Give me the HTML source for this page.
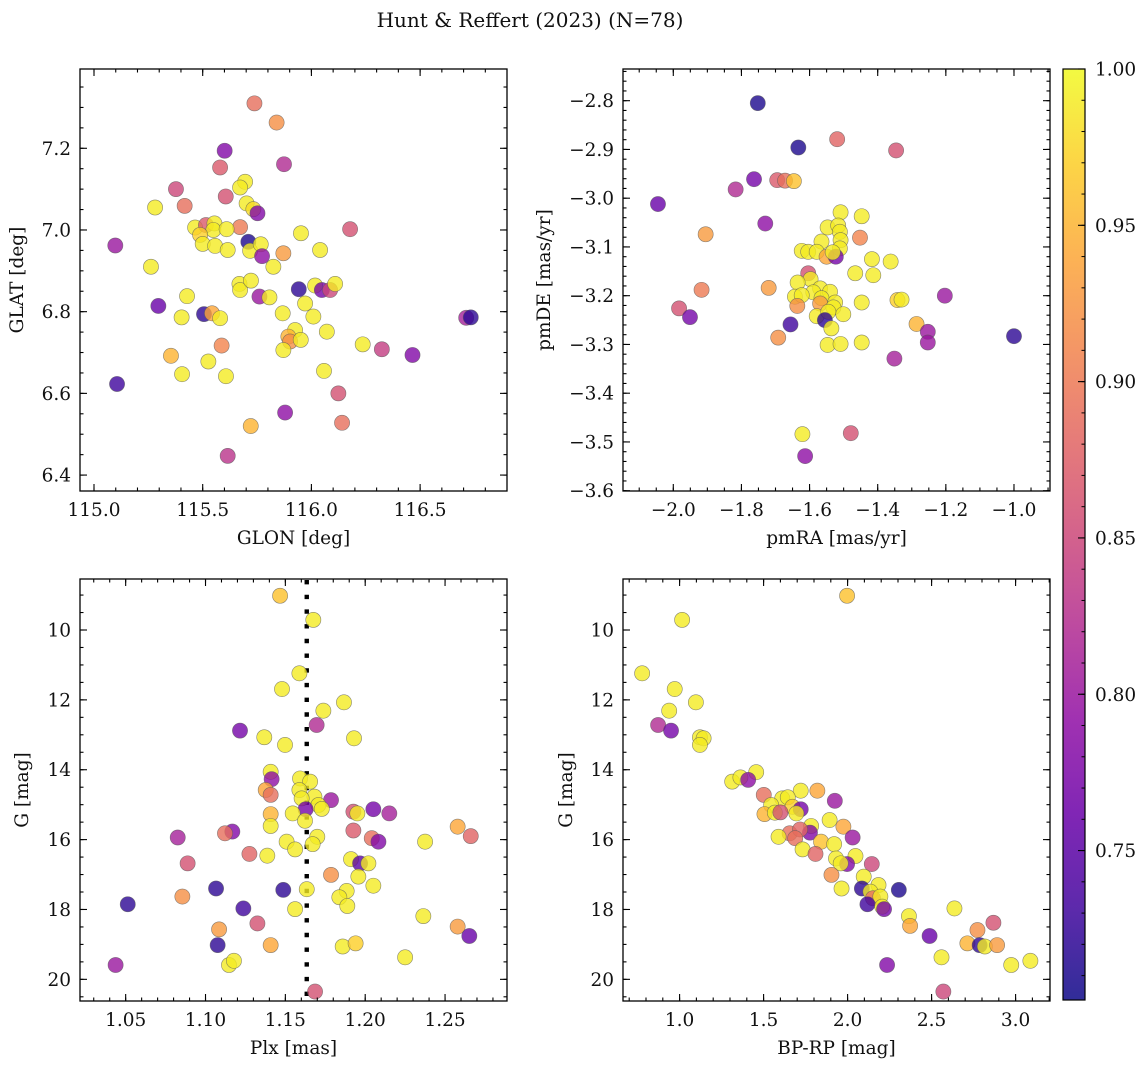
<!DOCTYPE html>
<html><head><meta charset="utf-8"><style>
html,body{margin:0;padding:0;background:#fff;}
svg{display:block;font-family:"DejaVu Serif","Liberation Serif",serif;}
</style></head><body>
<svg id="fig" width="1148" height="1068" viewBox="0 0 1148 1068" xmlns="http://www.w3.org/2000/svg">
<text x="530" y="27" font-size="20" text-anchor="middle" fill="#111">Hunt &amp; Reffert (2023) (N=78)</text>
</svg>
<script>
// ---- Panel 1: GLON vs GLAT ----
const glonTL=[115.738,115.840,115.601,115.874,115.580,115.695,115.672,115.377,115.606,115.281,115.417,115.702,115.733,115.752,116.178,115.672,115.465,115.515,115.554,115.549,115.610,115.488,115.500,115.557,115.615,115.952,115.710,115.718,115.767,115.773,115.871,116.040,115.098,115.262,115.825,115.669,115.672,115.722,115.942,116.017,116.048,116.086,116.109,115.428,115.761,115.807,115.296,115.971,115.506,115.543,115.580,115.403,115.868,116.009,116.712,116.733,115.925,115.894,115.902,115.951,116.071,115.871,115.587,115.354,116.236,116.324,116.465,115.526,115.405,115.607,116.058,115.106,116.124,115.879,116.141,115.721,115.615];
const glatTL=[7.310,7.263,7.194,7.161,7.153,7.118,7.104,7.100,7.082,7.055,7.059,7.065,7.051,7.041,7.002,7.007,7.006,7.012,7.016,7.000,7.002,6.988,6.966,6.961,6.951,6.992,6.971,6.949,6.965,6.936,6.943,6.951,6.962,6.910,6.910,6.868,6.853,6.876,6.855,6.864,6.853,6.853,6.868,6.838,6.837,6.835,6.814,6.820,6.794,6.796,6.784,6.786,6.796,6.788,6.785,6.786,6.755,6.739,6.727,6.731,6.751,6.706,6.717,6.692,6.720,6.708,6.694,6.678,6.647,6.642,6.655,6.623,6.600,6.553,6.528,6.520,6.447];
const probTL=[0.89,0.92,0.78,0.82,0.87,0.99,0.99,0.85,0.86,0.99,0.89,0.99,0.98,0.78,0.86,0.90,0.99,0.87,0.99,0.99,0.99,0.97,0.99,0.99,0.99,0.99,0.71,0.99,0.99,0.79,0.93,0.99,0.80,0.99,0.99,0.99,0.99,0.99,0.72,0.99,0.77,0.85,0.99,0.99,0.80,0.99,0.76,0.99,0.72,0.94,0.99,0.99,0.99,0.99,0.81,0.72,0.99,0.95,0.92,0.99,0.99,0.99,0.91,0.95,0.99,0.84,0.78,0.99,0.99,0.99,0.99,0.73,0.86,0.79,0.89,0.95,0.83];
const xTicksTL=["115.0","115.5","116.0","116.5"];
const yTicksTL=["6.4","6.6","6.8","7.0","7.2"];
// ---- Panel 2: pmRA vs pmDE ----
const pmraTR=[-1.752,-1.633,-1.519,-1.346,-1.763,-1.695,-1.672,-1.646,-1.817,-2.045,-1.730,-1.905,-1.509,-1.447,-1.547,-1.516,-1.511,-1.509,-1.511,-1.452,-1.565,-1.623,-1.604,-1.579,-1.550,-1.523,-1.532,-1.417,-1.362,-1.466,-1.413,-1.604,-1.597,-1.635,-1.720,-1.917,-1.569,-1.589,-1.540,-1.643,-1.623,-1.565,-1.203,-1.447,-1.342,-1.330,-1.569,-1.525,-1.636,-1.530,-1.983,-1.951,-1.501,-1.579,-1.545,-1.555,-1.536,-1.656,-1.286,-1.253,-1.253,-1.000,-1.692,-1.547,-1.509,-1.447,-1.351,-1.621,-1.479,-1.613];
const pmdeTR=[-2.805,-2.896,-2.879,-2.902,-2.961,-2.963,-2.964,-2.965,-2.982,-3.012,-3.052,-3.074,-3.029,-3.037,-3.060,-3.056,-3.069,-3.086,-3.103,-3.081,-3.089,-3.108,-3.110,-3.110,-3.120,-3.120,-3.111,-3.125,-3.130,-3.154,-3.158,-3.154,-3.166,-3.173,-3.184,-3.188,-3.185,-3.193,-3.192,-3.202,-3.199,-3.205,-3.200,-3.214,-3.209,-3.208,-3.216,-3.214,-3.221,-3.224,-3.226,-3.244,-3.238,-3.242,-3.233,-3.250,-3.267,-3.259,-3.258,-3.274,-3.296,-3.283,-3.286,-3.301,-3.299,-3.296,-3.329,-3.484,-3.482,-3.529];
const probTR=[0.71,0.71,0.88,0.86,0.77,0.87,0.89,0.96,0.82,0.76,0.79,0.93,0.99,0.99,0.99,0.99,0.99,0.99,0.99,0.91,0.99,0.99,0.99,0.99,0.94,0.77,0.99,0.99,0.99,0.99,0.99,0.86,0.99,0.99,0.93,0.90,0.99,0.99,0.99,0.99,0.99,0.99,0.80,0.99,0.97,0.99,0.93,0.99,0.92,0.99,0.86,0.77,0.99,0.99,0.99,0.72,0.99,0.73,0.95,0.80,0.80,0.72,0.92,0.99,0.99,0.99,0.81,0.99,0.86,0.79];
const xTicksTR=["−2.0","−1.8","−1.6","−1.4","−1.2","−1.0"];
const yTicksTR=["−3.6","−3.5","−3.4","−3.3","−3.2","−3.1","−3.0","−2.9","−2.8"];
// ---- Panel 3: Plx vs G ----
const plxBL=[1.1467,1.1675,1.1588,1.1479,1.1867,1.1738,1.1696,1.1216,1.1368,1.1930,1.1498,1.1408,1.1414,1.1592,1.1655,1.1377,1.1588,1.1408,1.1682,1.1602,1.1786,1.1707,1.1728,1.1627,1.1408,1.1546,1.1926,1.1951,1.2051,1.2151,1.1623,1.1408,1.2579,1.1168,1.1122,1.1926,1.0826,1.1700,1.2661,1.1508,1.1671,1.2041,1.2083,1.2375,1.1275,1.1387,1.1561,1.0888,1.1911,1.1968,1.2020,1.1786,1.1957,1.2051,1.1066,1.1487,1.1634,1.1884,1.1838,1.0855,1.0513,1.1888,1.1561,1.1237,1.2364,1.1325,1.1085,1.2579,1.2652,1.1076,1.1408,1.1859,1.1940,1.2250,1.1147,1.1178,1.0437,1.1686];
const gBL=[9.02,9.71,11.24,11.69,12.07,12.31,12.72,12.88,13.07,13.10,13.29,14.06,14.27,14.25,14.34,14.58,14.58,14.72,14.77,14.82,14.87,15.01,15.12,15.13,15.27,15.25,15.20,15.25,15.13,15.25,15.46,15.61,15.63,15.77,15.82,15.74,15.94,15.92,15.90,16.06,16.13,15.96,16.06,16.06,16.41,16.46,16.28,16.68,16.56,16.68,16.68,17.01,17.06,17.32,17.40,17.44,17.42,17.47,17.65,17.63,17.85,17.90,17.99,17.97,18.19,18.40,18.57,18.49,18.76,19.02,19.02,19.06,18.97,19.37,19.59,19.47,19.59,20.35];
const probBL=[0.96,0.99,0.99,0.99,0.99,0.99,0.82,0.77,0.99,0.99,0.99,0.99,0.79,0.99,0.99,0.94,0.99,0.89,0.99,0.99,0.80,0.99,0.99,0.77,0.95,0.99,0.86,0.99,0.77,0.81,0.99,0.99,0.94,0.78,0.89,0.87,0.81,0.99,0.88,0.99,0.99,0.89,0.78,0.99,0.88,0.99,0.99,0.86,0.99,0.75,0.99,0.92,0.99,0.99,0.72,0.72,0.99,0.99,0.99,0.92,0.72,0.99,0.99,0.73,0.99,0.86,0.93,0.93,0.76,0.72,0.94,0.99,0.97,0.99,0.99,0.99,0.80,0.86];
const plxRef=[1.1634];
const xTicksBL=["1.05","1.10","1.15","1.20","1.25"];
const yTicksG=["10","12","14","16","18","20"];
// ---- Panel 4: BP-RP vs G ----
const bprpBR=[1.997,1.015,0.777,0.971,1.097,0.938,0.872,0.949,1.121,1.143,1.121,1.456,1.313,1.362,1.408,1.721,1.820,1.501,1.611,1.644,1.924,1.545,1.672,1.721,1.505,1.567,1.600,1.695,1.893,1.975,1.783,1.776,1.655,1.717,1.688,1.589,2.030,1.842,1.920,1.732,1.809,2.047,1.931,1.997,1.959,2.144,1.904,2.096,1.964,2.085,2.184,2.136,2.305,2.151,2.195,2.118,2.206,2.217,2.636,2.365,2.372,2.488,2.868,2.773,2.713,2.786,2.817,2.890,2.559,2.235,2.974,3.088,2.570];
const gBR=[9.02,9.71,11.24,11.69,12.07,12.31,12.72,12.88,13.07,13.10,13.29,14.07,14.34,14.22,14.29,14.60,14.60,14.72,14.82,14.79,14.89,15.01,15.06,15.13,15.27,15.23,15.22,15.25,15.44,15.63,15.61,15.80,15.82,15.71,15.96,15.92,15.94,16.06,16.13,16.28,16.41,16.47,16.54,16.70,16.68,16.70,17.01,17.06,17.40,17.40,17.30,17.49,17.44,17.68,17.63,17.85,17.92,17.99,17.97,18.19,18.47,18.76,18.38,18.59,18.97,19.02,19.06,19.02,19.37,19.59,19.59,19.47,20.35];
const probBR=[0.96,0.99,0.99,0.99,0.99,0.99,0.82,0.77,0.99,0.99,0.99,0.99,0.99,0.99,0.79,0.99,0.94,0.89,0.99,0.99,0.80,0.99,0.97,0.77,0.95,0.99,0.86,0.99,0.99,0.94,0.99,0.78,0.89,0.88,0.89,0.99,0.80,0.96,0.99,0.99,0.88,0.99,0.99,0.78,0.99,0.85,0.92,0.99,0.99,0.72,0.99,0.99,0.71,0.89,0.99,0.73,0.99,0.77,0.99,0.99,0.94,0.76,0.86,0.92,0.95,0.72,0.99,0.93,0.99,0.78,0.99,0.99,0.85];
const xTicksBR=["1.0","1.5","2.0","2.5","3.0"];
// ---- Colorbar ----
const cbarRange=[0.7022,1.0];
const cbarTicks=["0.75","0.80","0.85","0.90","0.95","1.00"];

const NS="http://www.w3.org/2000/svg";
const svg=document.getElementById('fig');
const FS=18.5;
function mk(tag,attrs,parent){const e=document.createElementNS(NS,tag);for(const k in attrs)e.setAttribute(k,attrs[k]);(parent||svg).appendChild(e);return e;}
const stops=[[13,8,135],[65,4,157],[106,0,168],[143,13,164],[177,42,144],[204,71,120],[225,100,98],[242,132,75],[252,166,54],[252,206,37],[240,249,33]];
function plasma(t){t=Math.max(0,Math.min(1,t));const f=t*10,i=Math.min(9,Math.floor(f)),r=f-i;const a=stops[i],b=stops[i+1];return 'rgb('+a.map((v,k)=>Math.round(v+(b[k]-v)*r)).join(',')+')';}
function pcol(p){return plasma((p-cbarRange[0])/(cbarRange[1]-cbarRange[0]));}
function lin(d0,d1,r0,r1){return v=>r0+(v-d0)*(r1-r0)/(d1-d0);}

function panel(o){
  const g=mk('g',{});
  
  
  const X=lin(o.xd[0],o.xd[1],o.L,o.R), Y=lin(o.yd[0],o.yd[1],o.B,o.T);
  const clipId='c'+o.name;
  const cp=mk('clipPath',{id:clipId},g);mk('rect',{x:o.L,y:o.T,width:o.R-o.L,height:o.B-o.T},cp);
  const pg=mk('g',{'clip-path':'url(#'+clipId+')'},g);
  
  
  if(o.vline){const vl=mk('line',{x1:X(o.vline),x2:X(o.vline),y1:o.T+1,y2:o.B,stroke:'#000','stroke-width':4.4,'stroke-dasharray':'4.4 10.3'},pg);
    
    }
  for(let i=0;i<o.xs.length;i++){
    const c=mk('circle',{cx:X(o.xs[i]),cy:Y(o.ys[i]),r:7.6,fill:pcol(o.ps[i]),'fill-opacity':0.8,stroke:'#5a5a5a','stroke-opacity':0.7,'stroke-width':0.6},pg);
    
    
  }
  const tk=mk('g',{stroke:'#000','stroke-width':1.1},g);
  for(let v=o.xminor[0];v<=o.xd[1]+1e-9;v+=o.xminor[1]){const x=X(v);if(x<o.L-0.5||x>o.R+0.5)continue;
    mk('line',{x1:x,x2:x,y1:o.B,y2:o.B-3.5},tk);mk('line',{x1:x,x2:x,y1:o.T,y2:o.T+3.5},tk);}
  for(let v=o.yminor[0];v<=Math.max(o.yd[0],o.yd[1])+1e-9;v+=o.yminor[1]){const y=Y(v);if(y<o.T-0.5||y>o.B+0.5)continue;
    mk('line',{x1:o.L,x2:o.L+3.5,y1:y,y2:y},tk);mk('line',{x1:o.R,x2:o.R-3.5,y1:y,y2:y},tk);}
  o.xt.forEach(s=>{const v=parseFloat(s.replace('−','-'));const x=X(v);
    mk('line',{x1:x,x2:x,y1:o.B,y2:o.B-7},tk);mk('line',{x1:x,x2:x,y1:o.T,y2:o.T+7},tk);
    const t=mk('text',{x:x,y:o.B+25,'font-size':FS,'text-anchor':'middle',fill:'#111'},g);t.textContent=s;
    
    });
  o.yt.forEach(s=>{const v=parseFloat(s.replace('−','-'));const y=Y(v);
    mk('line',{x1:o.L,x2:o.L+7,y1:y,y2:y},tk);mk('line',{x1:o.R,x2:o.R-7,y1:y,y2:y},tk);
    const t=mk('text',{x:o.L-9,y:y+6.5,'font-size':FS,'text-anchor':'end',fill:'#111'},g);t.textContent=s;
    
    });
  const fr=mk('rect',{x:o.L,y:o.T,width:o.R-o.L,height:o.B-o.T,fill:'none',stroke:'#000','stroke-width':1.3},g);
  
  
  const xl=mk('text',{x:(o.L+o.R)/2,y:o.B+53,'font-size':FS,'text-anchor':'middle',fill:'#111'},g);xl.textContent=o.xlab;
  
  
  const yx=o.ylx,yy=(o.T+o.B)/2;
  const yl=mk('text',{x:yx,y:yy,'font-size':FS,'text-anchor':'middle',fill:'#111',transform:'rotate(-90 '+yx+' '+yy+')'},g);yl.textContent=o.ylab;
  
  
}
panel({name:'sky-position-panel',L:80,R:507,T:69,B:491,xd:[114.9356,116.8997],yd:[6.3610,7.3941],
  xs:glonTL,ys:glatTL,ps:probTL,xt:xTicksTL,yt:yTicksTL,xminor:[114.9,0.1],yminor:[6.35,0.05],xlab:'GLON [deg]',ylab:'GLAT [deg]',ylx:23});
panel({name:'proper-motion-panel',L:623,R:1050,T:69,B:491,xd:[-2.1476,-0.8943],yd:[-3.6006,-2.7350],
  xs:pmraTR,ys:pmdeTR,ps:probTR,xt:xTicksTR,yt:yTicksTR,xminor:[-2.15,0.05],yminor:[-3.62,0.02],xlab:'pmRA [mas/yr]',ylab:'pmDE [mas/yr]',ylx:550});
panel({name:'parallax-magnitude-panel',L:80,R:507,T:579,B:1001,xd:[1.0214,1.2888],yd:[20.62,8.54],
  xs:plxBL,ys:gBL,ps:probBL,xt:xTicksBL,yt:yTicksG,xminor:[1.02,0.01],yminor:[8.5,0.5],xlab:'Plx [mas]',ylab:'G [mag]',ylx:28,vline:plxRef[0]});
panel({name:'color-magnitude-panel',L:623,R:1050,T:579,B:1001,xd:[0.6631,3.2048],yd:[20.62,8.54],
  xs:bprpBR,ys:gBR,ps:probBR,xt:xTicksBR,yt:yTicksG,xminor:[0.7,0.1],yminor:[8.5,0.5],xlab:'BP-RP [mag]',ylab:'G [mag]',ylx:572});
(function(){
  const L=1063,R=1085,T=69,B=1000;
  const cg=mk('g',{});
  
  
  const defs=mk('defs',{},cg);const lg=mk('linearGradient',{id:'plg',x1:0,y1:1,x2:0,y2:0},defs);
  for(let i=0;i<=20;i++){mk('stop',{offset:i/20,'stop-color':plasma(i/20)},lg);}
  mk('rect',{x:L,y:T,width:R-L,height:B-T,fill:'url(#plg)','fill-opacity':0.85},cg);
  const Y=lin(cbarRange[0],cbarRange[1],B,T);
  for(let v=0.71;v<=1.0001;v+=0.01){mk('line',{x1:R,x2:R-3.5,y1:Y(v),y2:Y(v),stroke:'#000','stroke-width':1},cg);}
  cbarTicks.forEach(s=>{const y=Y(parseFloat(s));mk('line',{x1:R,x2:R-7,y1:y,y2:y,stroke:'#000','stroke-width':1.1},cg);
    const t=mk('text',{x:R+10,y:y+6.5,'font-size':FS,fill:'#111'},cg);t.textContent=s;
    
    });
  mk('rect',{x:L,y:T,width:R-L,height:B-T,fill:'none',stroke:'#000','stroke-width':1.2},cg);
})();
</script>
</body></html>
